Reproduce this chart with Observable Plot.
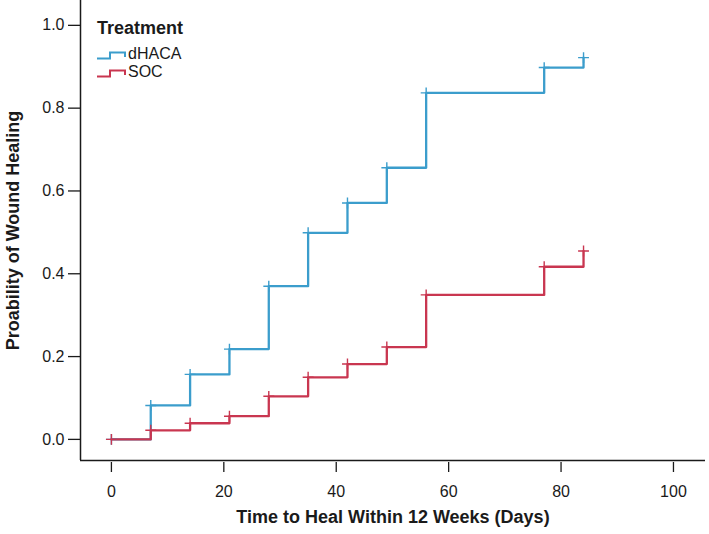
<!DOCTYPE html>
<html>
<head>
<meta charset="utf-8">
<script src="https://cdn.jsdelivr.net/npm/d3@7"></script>
<script src="https://cdn.jsdelivr.net/npm/@observablehq/plot@0.6"></script>
<style>
  html, body { margin: 0; padding: 0; background: #fff; }
  #wrap { position: relative; width: 709px; height: 534px; font-family: "Liberation Sans", Arial, sans-serif; color: #1a1a1a; }
  .lg { position: absolute; white-space: nowrap; }
  .lg.title { left: 97px; top: 18px; font-weight: bold; font-size: 18px; line-height: 20px; }
  .lg.item { left: 97px; font-size: 16px; line-height: 18px; display: flex; align-items: flex-end; }
  .lg.item svg { display: block; margin-right: 1px; margin-bottom: 3px; }
</style>
</head>
<body>
<div id="wrap">
  <div id="chart"></div>
</div>
<script>
// Data
const days  = [0, 7, 14, 21, 28, 35, 42, 49, 56, 77, 84];
const dHACA = [0, 0.082, 0.157, 0.218, 0.370, 0.499, 0.571, 0.656, 0.837, 0.898, 0.922];
const SOC   = [0, 0.022, 0.039, 0.056, 0.104, 0.150, 0.182, 0.223, 0.349, 0.417, 0.455];
const groups = ["dHACA", "SOC"];
const colors = ["#3b9dcc", "#c93650"];
const xTicks = [0, 20, 40, 60, 80, 100];
const yTicks = [0, 0.2, 0.4, 0.6, 0.8, 1.0];
const xLabel = "Time to Heal Within 12 Weeks (Days)";
const yLabel = "Proability of Wound Healing";
const legendTitle = "Treatment";

const xDomain = [-5.5, 105.7];
const yDomain = [-0.051, 1.06];

const rows = [];
groups.forEach((g, gi) => {
  const vals = gi === 0 ? dHACA : SOC;
  days.forEach((d, i) => rows.push({group: g, day: d, p: vals[i]}));
});

const font = "Liberation Sans, Arial, sans-serif";

const chart = Plot.plot({
  width: 709,
  height: 534,
  marginLeft: 80,
  marginRight: 4,
  marginTop: 0,
  marginBottom: 74,
  style: {fontFamily: font, background: "#fff", color: "#1a1a1a"},
  x: {domain: xDomain},
  y: {domain: yDomain},
  color: {domain: groups, range: colors},
  marks: [
    Plot.axisY({ticks: yTicks, tickFormat: d3.format(".1f"), tickSize: 12, tickPadding: 4, fontSize: 16, label: null, stroke: "#1a1a1a", strokeWidth: 1.3}),
    Plot.axisX({ticks: xTicks, tickSize: 10, tickPadding: 13, dy: 2, fontSize: 16, label: null, stroke: "#1a1a1a", strokeWidth: 1.3}),
    Plot.ruleX([xDomain[0]], {stroke: "#1a1a1a", strokeWidth: 1.5}),
    Plot.ruleY([yDomain[0]], {stroke: "#1a1a1a", strokeWidth: 1.5}),
    Plot.line(rows, {x: "day", y: "p", z: "group", stroke: "group", curve: "step-after", strokeWidth: 2.3}),
    Plot.dot(rows, {x: "day", y: "p", stroke: "group", symbol: "plus", r: 3.6, strokeWidth: 1.4}),
    Plot.text([yLabel], {frameAnchor: "left", textAnchor: "middle", dx: -67, dy: 0, rotate: -90, fontSize: 18, fontWeight: "bold", fill: "#1a1a1a"}),
    Plot.text([xLabel], {frameAnchor: "bottom", textAnchor: "middle", dx: 0, dy: 62, fontSize: 18, fontWeight: "bold", fill: "#1a1a1a"})
  ]
});
const wrap = document.getElementById("wrap");
document.getElementById("chart").appendChild(chart);

// Legend (overlay)
const t = document.createElement("div");
t.className = "lg title";
t.textContent = legendTitle;
wrap.appendChild(t);
const itemTops = [44.5, 62.5];
groups.forEach((g, i) => {
  const item = document.createElement("div");
  item.className = "lg item";
  item.style.top = itemTops[i] + "px";
  item.innerHTML = `<svg width="30" height="10"><path d="M0,8.5H13V2.5H28V7" fill="none" stroke="${colors[i]}" stroke-width="2"/></svg><span>${g}</span>`;
  wrap.appendChild(item);
});
</script>
</body>
</html>
